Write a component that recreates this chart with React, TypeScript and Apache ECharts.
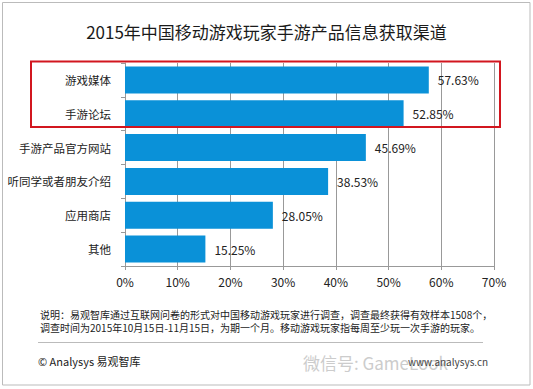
import React, { useEffect, useRef } from "react";
import * as echarts from "echarts";

const categories = ["游戏媒体", "手游论坛", "手游产品官方网站", "听同学或者朋友介绍", "应用商店", "其他"];
const values = [57.63, 52.85, 45.69, 38.53, 28.05, 15.25];
const valueLabels = ["57.63%", "52.85%", "45.69%", "38.53%", "28.05%", "15.25%"];
const xTicks = [0, 10, 20, 30, 40, 50, 60, 70];

const title = "2015年中国移动游戏玩家手游产品信息获取渠道";
const note1 = "说明：易观智库通过互联网问卷的形式对中国移动游戏玩家进行调查，调查最终获得有效样本1508个，";
const note2 = "调查时间为2015年10月15日-11月15日，为期一个月。移动游戏玩家指每周至少玩一次手游的玩家。";
const source = "© Analysys 易观智库";

const FONT = "'Noto Sans CJK SC', 'Noto Sans', sans-serif";

export default function App() {
  const ref = useRef<HTMLDivElement>(null);
  useEffect(() => {
    if (!ref.current) return;
    const chart = echarts.init(ref.current, undefined, { renderer: "svg" });
    chart.setOption({
      animation: false,
      backgroundColor: "#ffffff",
      textStyle: { fontFamily: FONT },
      title: {
        text: title,
        left: "center",
        top: 18,
        textStyle: { fontSize: 17, fontWeight: "normal", color: "#1a1a1a", fontFamily: FONT },
      },
      grid: { left: 125, right: 39, top: 63, bottom: 123, containLabel: false },
      xAxis: {
        type: "value",
        min: xTicks[0],
        max: xTicks[xTicks.length - 1],
        interval: 10,
        axisLine: { show: true, lineStyle: { color: "#999", width: 1 } },
        axisTick: { show: true, length: 4, lineStyle: { color: "#999" } },
        splitLine: { show: true, lineStyle: { color: "#999", width: 1 } },
        axisLabel: { formatter: "{value}%", fontSize: 12, color: "#222", margin: 9, fontFamily: FONT },
      },
      yAxis: {
        type: "category",
        inverse: true,
        data: categories,
        axisLine: { show: true, lineStyle: { color: "#999", width: 1 } },
        axisTick: { show: true, length: 4, lineStyle: { color: "#999" } },
        axisLabel: { fontSize: 11.5, color: "#222", margin: 14, fontFamily: FONT },
      },
      series: [
        {
          type: "bar",
          data: values,
          barCategoryGap: "20%",
          itemStyle: { color: "#0a91d8" },
          label: {
            show: true,
            position: "right",
            distance: 9,
            fontSize: 12,
            color: "#222",
            fontFamily: FONT,
            formatter: (p: any) => valueLabels[p.dataIndex],
          },
        },
      ],
      graphic: [
        {
          type: "rect",
          shape: { x: 2.5, y: 2.5, width: 527.5, height: 382.5 },
          style: { fill: "none", stroke: "#bbbbbb", lineWidth: 1 },
          silent: true,
        },
        {
          type: "rect",
          shape: { x: 31, y: 61.5, width: 469, height: 65.5 },
          style: { fill: "none", stroke: "#d2161f", lineWidth: 2 },
          z: 100,
          silent: true,
        },
        {
          type: "text",
          x: 40,
          y: 314,
          style: { text: note1, fontSize: 10, lineHeight: 12, fill: "#222", fontFamily: FONT, verticalAlign: "middle" },
        },
        {
          type: "text",
          x: 40,
          y: 327.5,
          style: { text: note2, fontSize: 10, lineHeight: 12, fill: "#222", fontFamily: FONT, verticalAlign: "middle" },
        },
        {
          type: "line",
          shape: { x1: 38, y1: 342.5, x2: 483, y2: 342.5 },
          style: { stroke: "#bbbbbb", lineWidth: 1 },
        },
        {
          type: "text",
          x: 38,
          y: 361,
          style: { text: source, fontSize: 11, fill: "#222", fontFamily: FONT, verticalAlign: "middle" },
        },
        {
          type: "text",
          x: 303,
          y: 362,
          style: { text: "微信号: GameLook", fontSize: 17, fill: "#cccccc", fontFamily: FONT, verticalAlign: "middle" },
        },
        {
          type: "text",
          x: 408,
          y: 361,
          style: { text: "www.analysys.cn", fontSize: 10, fill: "#444", fontFamily: FONT, verticalAlign: "middle" },
        },
      ],
    });
    return () => chart.dispose();
  }, []);
  return (
    <div
      ref={ref}
      style={{ position: "fixed", left: 0, top: 0, width: 533, height: 389 }}
    />
  );
}
